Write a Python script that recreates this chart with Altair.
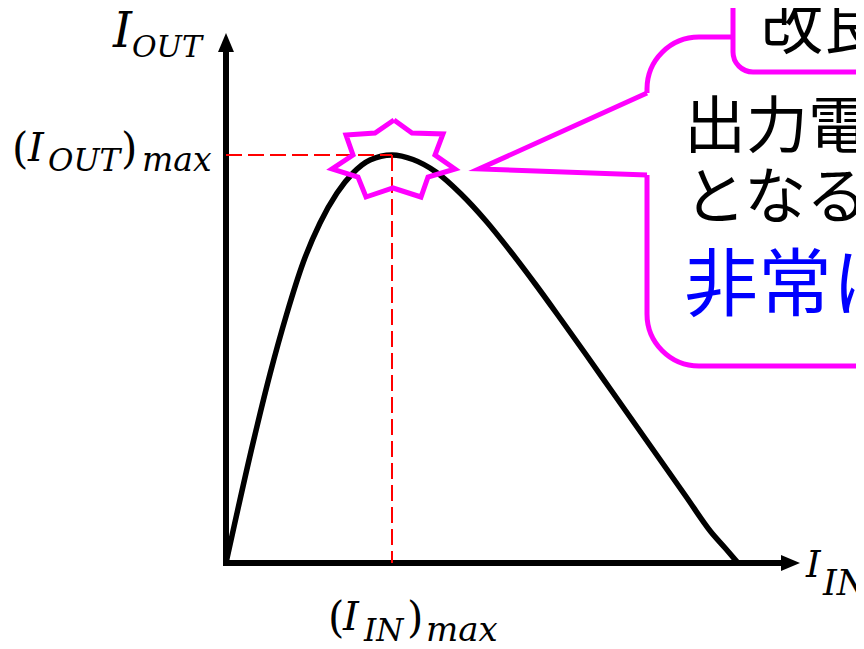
import altair as alt
import pandas as pd

# ---------------- data (arbitrary current units) ----------------
I_IN = [0.0, 0.54, 0.88, 1.22, 1.54, 1.88, 2.22, 2.54, 2.88, 3.32, 3.74, 4.2,
        4.7, 5.2, 5.7, 6.2, 6.7, 7.2, 7.7, 8.2, 8.7, 9.2, 9.7, 10.0, 10.24]
I_OUT = [0.0, 2.4, 3.78, 5.0, 6.0, 6.8, 7.4, 7.8, 8.06, 8.16, 8.07, 7.82,
         7.38, 6.84, 6.22, 5.56, 4.87, 4.17, 3.46, 2.75, 2.04, 1.33, 0.62, 0.28, 0.0]
I_IN_MAX = 3.32
I_OUT_MAX = 8.16

# 7-pointed star outline around the maximum
STAR_X = [3.36, 3.72, 4.34, 4.18, 4.58, 4.04, 3.90, 3.34, 2.80, 2.64, 2.12, 2.54, 2.40, 2.98, 3.36]
STAR_Y = [8.86, 8.60, 8.58, 8.16, 7.88, 7.72, 7.32, 7.50, 7.32, 7.72, 7.88, 8.16, 8.56, 8.60, 8.86]

CALLOUT_LINES = ["出力電", "となる", "非常に"]
TOP_BOX_TEXT = "改良"

# ---------------- layout ----------------
W, H = 848, 633
xs = alt.Scale(domain=[-4.36, 12.6], nice=False, zero=False)
ys = alt.Scale(domain=[-1.56, 11.1], nice=False, zero=False)
MAGENTA = "#FF00FF"


def ex(f):
    return alt.X(f"{f}:Q", scale=xs, axis=None)


def ey(f):
    return alt.Y(f"{f}:Q", scale=ys, axis=None)


# axes
x_axis = alt.Chart(pd.DataFrame({"x": [-0.06], "x2": [11.14], "y": [0.0]})).mark_rule(
    color="black", strokeWidth=6, strokeCap="butt"
).encode(x=ex("x"), x2="x2:Q", y=ey("y"))
y_axis = alt.Chart(pd.DataFrame({"x": [0.0], "y": [-0.06], "y2": [10.22]})).mark_rule(
    color="black", strokeWidth=6, strokeCap="butt"
).encode(x=ex("x"), y=ey("y"), y2="y2:Q")
arrow_up = alt.Chart(pd.DataFrame({"x": [0.0], "y": [10.41]})).mark_point(
    shape="M0,-1L0.84,1L-0.84,1Z", size=361, filled=True, color="black", opacity=1, strokeWidth=0
).encode(x=ex("x"), y=ey("y"))
arrow_right = alt.Chart(pd.DataFrame({"x": [11.29], "y": [0.0]})).mark_point(
    shape="M1,0L-1,-0.84L-1,0.84Z", size=361, filled=True, color="black", opacity=1, strokeWidth=0
).encode(x=ex("x"), y=ey("y"))

# curve
curve = alt.Chart(pd.DataFrame({"x": I_IN, "y": I_OUT})).mark_line(
    color="black", strokeWidth=5.5, interpolate="monotone"
).encode(x=ex("x"), y=ey("y"))

# red dashed guide lines
h_guide = alt.Chart(pd.DataFrame({"x": [0.0], "x2": [I_IN_MAX], "y": [I_OUT_MAX]})).mark_rule(
    color="#FF0000", strokeWidth=2, strokeDash=[16, 6]
).encode(x=ex("x"), x2="x2:Q", y=ey("y"))
v_guide = alt.Chart(pd.DataFrame({"x": [I_IN_MAX], "y": [I_OUT_MAX], "y2": [0.0]})).mark_rule(
    color="#FF0000", strokeWidth=2, strokeDash=[16, 6]
).encode(x=ex("x"), y=ey("y"), y2="y2:Q")

# star
star = alt.Chart(pd.DataFrame({"x": STAR_X, "y": STAR_Y, "o": list(range(len(STAR_X)))})).mark_line(
    color=MAGENTA, strokeWidth=5, strokeJoin="miter"
).encode(x=ex("x"), y=ey("y"), order="o:Q")

# callout
callout_box = alt.Chart(pd.DataFrame({"x": [8.42], "x2": [16.0], "y": [10.52], "y2": [3.94]})).mark_rect(
    fill="white", stroke=MAGENTA, strokeWidth=5, cornerRadius=52
).encode(x=ex("x"), x2="x2:Q", y=ey("y"), y2="y2:Q")
pointer_fill = alt.Chart(pd.DataFrame({"x": [5.06, 8.42, 8.5], "y": [7.88, 9.4, 9.4], "y2": [7.88, 7.76, 7.76]})).mark_area(
    color="white", opacity=1
).encode(x=ex("x"), y=ey("y"), y2="y2:Q")
pointer_line = alt.Chart(pd.DataFrame({"x": [8.42, 5.06, 8.42], "y": [9.4, 7.88, 7.76], "o": [0, 1, 2]})).mark_line(
    color=MAGENTA, strokeWidth=5, strokeJoin="miter", strokeMiterLimit=10
).encode(x=ex("x"), y=ey("y"), order="o:Q")

callout_text = alt.Chart(pd.DataFrame({
    "t": CALLOUT_LINES,
    "x": [9.16, 9.16, 9.16],
    "y": [8.3, 6.88, 5.06],
    "s": [62, 62, 74],
    "c": ["black", "black", "#0000FF"],
})).mark_text(font="Noto Sans CJK JP", align="left", baseline="alphabetic").encode(
    x=ex("x"), y=ey("y"), text="t:N", size=alt.Size("s:Q", scale=None), color=alt.Color("c:N", scale=None)
)

top_box = alt.Chart(pd.DataFrame({"x": [10.14], "x2": [16.0], "y": [12.5], "y2": [9.82]})).mark_rect(
    fill="white", stroke=MAGENTA, strokeWidth=5, cornerRadius=20
).encode(x=ex("x"), x2="x2:Q", y=ey("y"), y2="y2:Q")
top_text = alt.Chart(pd.DataFrame({"t": [TOP_BOX_TEXT], "x": [10.7], "y": [10.28]})).mark_text(
    font="Noto Sans CJK JP", align="left", baseline="alphabetic", fontSize=62, color="black"
).encode(x=ex("x"), y=ey("y"), text="t:N")

# math labels (italic pieces)
ital = pd.DataFrame({
    "t": ["I", "OUT", "I", "OUT", "max", "I", "IN", "max", "I", "IN"],
    "x": [-2.26, -1.88, -3.96, -3.56, -1.68, 2.34, 2.76, 4.0, 11.6, 11.94],
    "y": [10.32, 10.12, 8.04, 7.84, 7.84, -1.34, -1.56, -1.56, -0.28, -0.64],
    "s": [48, 30, 40, 31, 33, 40, 31, 34, 37, 35],
})
upright = pd.DataFrame({
    "t": ["(", ")", "(", ")"],
    "x": [-4.28, -2.1, 2.04, 3.62],
    "y": [8.0, 8.0, -1.38, -1.38],
    "s": [42, 42, 42, 42],
})
ital_text = alt.Chart(ital).mark_text(
    font="DejaVu Serif", fontStyle="italic", align="left", baseline="alphabetic", color="black"
).encode(x=ex("x"), y=ey("y"), text="t:N", size=alt.Size("s:Q", scale=None))
up_text = alt.Chart(upright).mark_text(
    font="DejaVu Serif", align="left", baseline="alphabetic", color="black"
).encode(x=ex("x"), y=ey("y"), text="t:N", size=alt.Size("s:Q", scale=None))

chart = alt.layer(
    x_axis, y_axis, arrow_up, arrow_right, curve, h_guide, v_guide, star,
    callout_box, pointer_fill, pointer_line, callout_text, top_box, top_text,
    ital_text, up_text,
).properties(
    width=W, height=H, padding=0, autosize=alt.AutoSizeParams(type="none"), background="white"
).configure_view(stroke=None)

chart.save("out.html", embed_options={"renderer": "svg", "actions": False})
